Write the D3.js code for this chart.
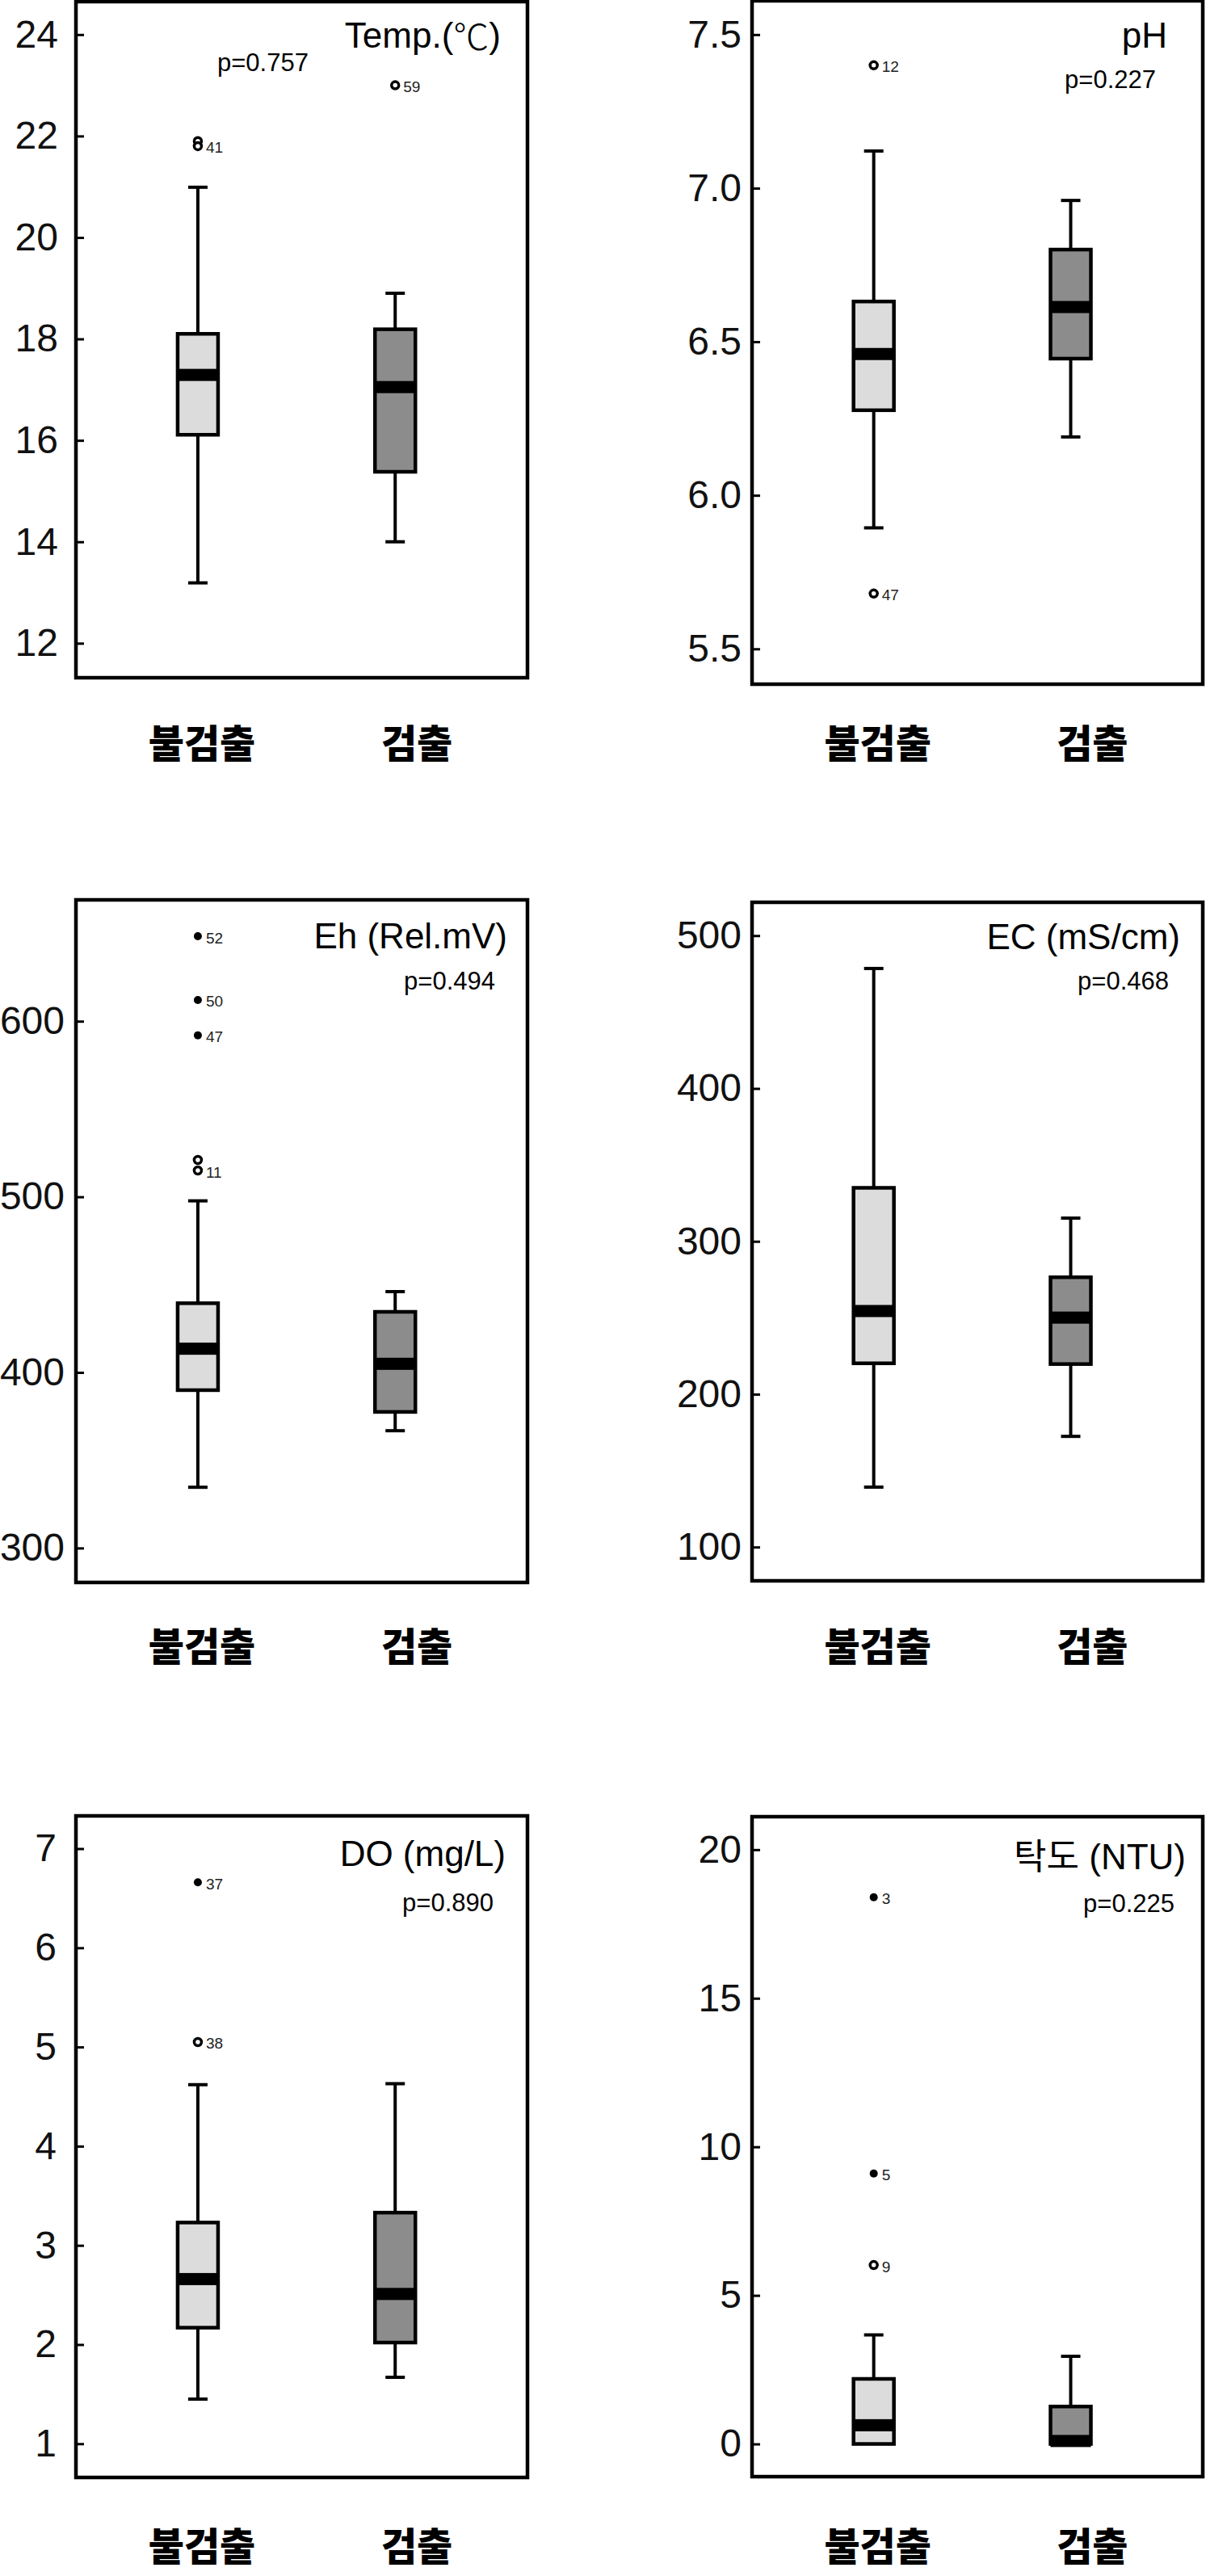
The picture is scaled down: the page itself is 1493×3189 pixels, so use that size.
<!DOCTYPE html>
<html><head><meta charset="utf-8">
<script src="https://cdn.jsdelivr.net/npm/d3@7"></script>
<style>body{margin:0;background:#fff}</style>
</head><body>
<svg id="c" width="1493" height="3189" xmlns="http://www.w3.org/2000/svg"></svg>
<script>
// ---------------- DATA ----------------
const categories = ["불검출", "검출"];
const titles = ["Temp.(℃)", "pH", "Eh (Rel.mV)", "EC (mS/cm)", "DO (mg/L)", "탁도 (NTU)"];
const pLabels = ["p=0.757", "p=0.227", "p=0.494", "p=0.468", "p=0.890", "p=0.225"];
// per panel: [불검출, 검출]
const whiskerLow  = [[13.19, 14.0], [5.894, 6.19], [334.6, 366.8], [139.2, 172.4], [1.45, 1.67], [0, 0]];
const q1          = [[16.11, 15.38], [6.277, 6.445], [389.9, 377.5], [220.2, 219.7], [2.17, 2.02], [0, 0]];
const medians     = [[17.29, 17.05], [6.46, 6.613], [413.5, 404.9], [254.4, 250.1], [2.66, 2.51], [0.63, 0.1]];
const q3          = [[18.10, 18.19], [6.631, 6.80], [439.4, 434.5], [335.0, 276.5], [3.23, 3.33], [2.19, 1.26]];
const whiskerHigh = [[20.99, 18.9], [7.121, 6.96], [497.7, 446.0], [478.5, 315.2], [4.62, 4.63], [3.67, 2.95]];
// outliers per panel: [group, value, label, kind] kind "o" = open circle, "*" = extreme (filled)
const outliers = [
  [[0, 21.9, "", "o"], [0, 21.8, "41", "o"], [1, 23.0, "59", "o"]],
  [[0, 7.40, "12", "o"], [0, 5.68, "47", "o"]],
  [[0, 648.4, "52", "*"], [0, 612.1, "50", "*"], [0, 591.9, "47", "*"], [0, 521.0, "", "o"], [0, 515.0, "11", "o"]],
  [],
  [[0, 6.66, "37", "*"], [0, 5.05, "38", "o"]],
  [[0, 18.4, "3", "*"], [0, 9.1, "5", "*"], [0, 6.02, "9", "o"]]
];
const yDomains = [[11.32, 24.65], [5.385, 7.61], [280.4, 669.1], [77.9, 521.8], [0.66, 7.33], [-1.1, 21.11]];
const yTicks = [
  [12, 14, 16, 18, 20, 22, 24],
  [5.5, 6.0, 6.5, 7.0, 7.5],
  [300, 400, 500, 600],
  [100, 200, 300, 400, 500],
  [1, 2, 3, 4, 5, 6, 7],
  [0, 5, 10, 15, 20]
];
const tickFormats = ["d", ".1f", "d", "d", "d", "d"];

// ---------------- LAYOUT ----------------
const frames = [
  {x0: 94,  x1: 653,  y0: 2,    y1: 839},
  {x0: 931, x1: 1489, y0: 1,    y1: 847},
  {x0: 94,  x1: 653,  y0: 1114, y1: 1959},
  {x0: 931, x1: 1489, y0: 1117, y1: 1957},
  {x0: 94,  x1: 653,  y0: 2248, y1: 3067},
  {x0: 931, x1: 1489, y0: 2249, y1: 3066}
];
const labelY = [917, 917, 2035, 2035, 3149, 3149];
const titlePos = [[620, 43], [1445, 43], [628, 1158], [1461, 1159], [626, 2294], [1468, 2298]];
const pPos = [[269, 77, "start"], [1431, 98, "end"], [613, 1214, "end"], [1447, 1214, "end"], [611, 2355, "end"], [1454, 2356, "end"]];
const tickGap = [22, 13, 14, 13, 24, 13];
const fills = ["#dcdcdc", "#8c8c8c"];
const boxW = 50, capW = 24;

const svg = d3.select("#c");
svg.append("rect").attr("width", 1493).attr("height", 3189).attr("fill", "#fff");

frames.forEach((f, i) => {
  const g = svg.append("g");
  const w = f.x1 - f.x0;
  const y = d3.scaleLinear().domain(yDomains[i]).range([f.y1, f.y0]);
  const x = d3.scalePoint().domain(categories).range([f.x0 + 0.27 * w, f.x0 + 0.707 * w]);
  const xl = d3.scalePoint().domain(categories).range([f.x0 + 0.279 * w, f.x0 + 0.755 * w]);

  // axis
  const ax = g.append("g").attr("transform", `translate(${f.x0},0)`)
    .call(d3.axisLeft(y).tickValues(yTicks[i]).tickFormat(d3.format(tickFormats[i]))
      .tickSize(-10).tickPadding(tickGap[i]));
  ax.select(".domain").remove();
  ax.selectAll(".tick line").attr("stroke", "#000").attr("stroke-width", 3);
  ax.selectAll(".tick text").attr("fill", "#111")
    .style("font-family", "'Liberation Sans', Arial, sans-serif").style("font-size", "48px");

  categories.forEach((c, j) => {
    const cx = x(c);
    // whiskers
    g.append("line").attr("x1", cx).attr("x2", cx)
      .attr("y1", y(q3[i][j])).attr("y2", y(whiskerHigh[i][j]))
      .attr("stroke", "#000").attr("stroke-width", 4);
    g.append("line").attr("x1", cx - capW / 2).attr("x2", cx + capW / 2)
      .attr("y1", y(whiskerHigh[i][j])).attr("y2", y(whiskerHigh[i][j]))
      .attr("stroke", "#000").attr("stroke-width", 4);
    if (whiskerLow[i][j] < q1[i][j]) {
      g.append("line").attr("x1", cx).attr("x2", cx)
        .attr("y1", y(q1[i][j])).attr("y2", y(whiskerLow[i][j]))
        .attr("stroke", "#000").attr("stroke-width", 4);
      g.append("line").attr("x1", cx - capW / 2).attr("x2", cx + capW / 2)
        .attr("y1", y(whiskerLow[i][j])).attr("y2", y(whiskerLow[i][j]))
        .attr("stroke", "#000").attr("stroke-width", 4);
    }
    // box
    g.append("rect").attr("x", cx - boxW / 2).attr("width", boxW)
      .attr("y", y(q3[i][j])).attr("height", y(q1[i][j]) - y(q3[i][j]))
      .attr("fill", fills[j]).attr("stroke", "#000").attr("stroke-width", 4.5);
    // median band
    g.append("rect").attr("x", cx - boxW / 2).attr("width", boxW)
      .attr("y", y(medians[i][j]) - 7.5).attr("height", 15).attr("fill", "#000");
    // category label
    svg.append("text").attr("x", xl(c)).attr("y", labelY[i]).attr("text-anchor", "middle")
      .attr("dominant-baseline", "central")
      .style("font-family", "'Noto Sans CJK KR', sans-serif").style("font-weight", 900)
      .style("font-size", "48px").attr("fill", "#000").text(c);
  });

  // outliers
  outliers[i].forEach(o => {
    const cx = x(categories[o[0]]), cy = y(o[1]);
    if (o[3] === "o") {
      g.append("circle").attr("cx", cx).attr("cy", cy).attr("r", 4.5)
        .attr("fill", "#fff").attr("stroke", "#000").attr("stroke-width", 3.5);
    } else {
      g.append("circle").attr("cx", cx).attr("cy", cy).attr("r", 5).attr("fill", "#000");
    }
    if (o[2]) {
      g.append("text").attr("x", cx + 10).attr("y", cy + 2).attr("dominant-baseline", "central")
        .style("font-family", "'Liberation Sans Narrow', 'Liberation Sans', Arial, sans-serif")
        .style("font-size", "19px").attr("fill", "#222").text(o[2]);
    }
  });

  // title (℃ drawn with the CJK font, as in the reference) and p value
  const t = g.append("text").attr("x", titlePos[i][0]).attr("y", titlePos[i][1])
    .attr("text-anchor", "end").attr("dominant-baseline", "central")
    .style("font-family", "'Liberation Sans', Arial, 'Noto Sans CJK KR', sans-serif")
    .style("font-size", "44px").attr("fill", "#000");
  titles[i].split(/(℃)/).filter(s => s.length).forEach(s => {
    const ts = t.append("tspan").text(s);
    if (s === "℃") ts.style("font-family", "'Noto Sans CJK KR', sans-serif").style("font-weight", 300);
  });
  g.append("text").attr("x", pPos[i][0]).attr("y", pPos[i][1])
    .attr("text-anchor", pPos[i][2]).attr("dominant-baseline", "central")
    .style("font-family", "'Liberation Sans', Arial, sans-serif")
    .style("font-size", "31px").attr("fill", "#000").text(pLabels[i]);

  // frame
  g.append("rect").attr("x", f.x0).attr("y", f.y0).attr("width", w).attr("height", f.y1 - f.y0)
    .attr("fill", "none").attr("stroke", "#000").attr("stroke-width", 4.5);
});
</script>
</body></html>
